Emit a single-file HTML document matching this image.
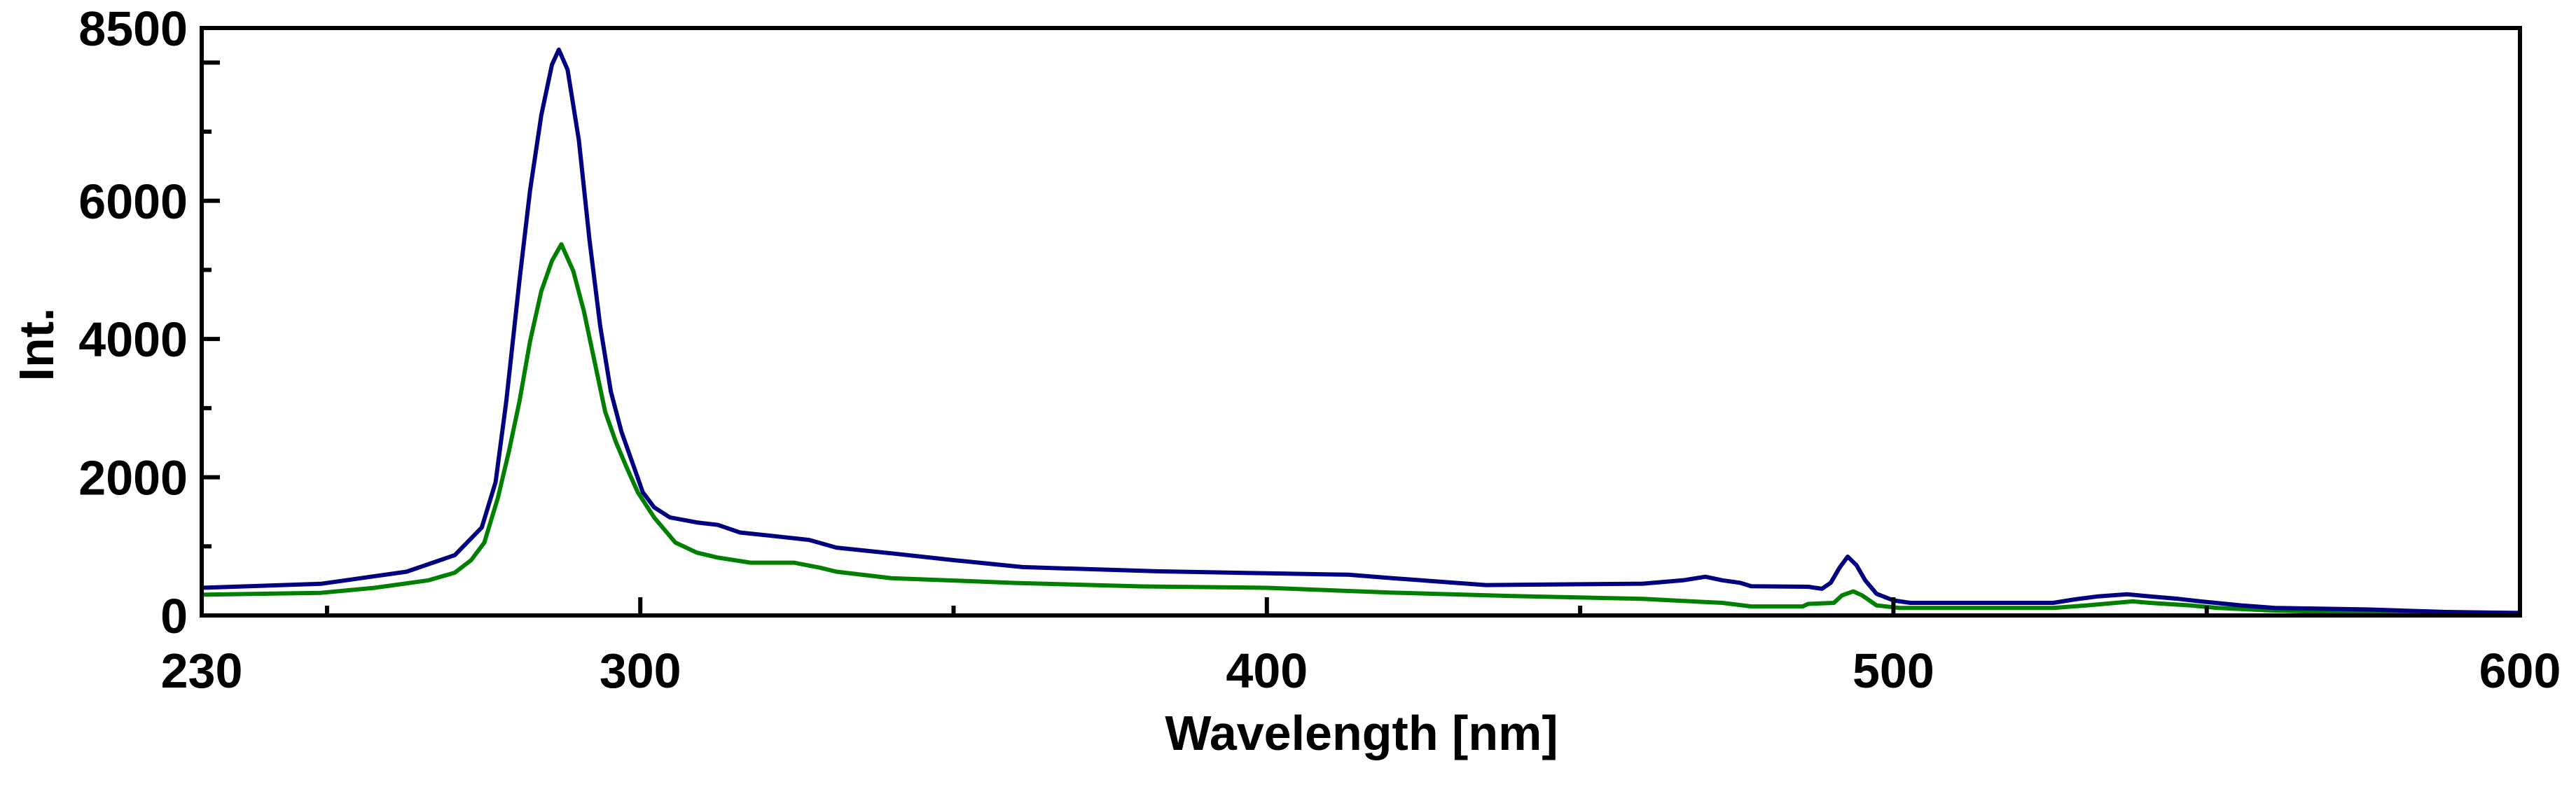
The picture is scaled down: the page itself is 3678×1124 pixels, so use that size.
<!DOCTYPE html>
<html><head><meta charset="utf-8"><style>
html,body{margin:0;padding:0;background:#fff;}
svg{display:block;font-family:"Liberation Sans",sans-serif;font-weight:bold;}
</style></head><body>
<svg id="chart" width="3678" height="1124" viewBox="0 0 3678 1124">
<g id="series"></g>
<g id="axes"></g>
<text x="1944" y="1071" font-size="70" text-anchor="middle">Wavelength [nm]</text>
<text transform="translate(76,492) rotate(-90)" font-size="70" text-anchor="middle">Int.</text>
</svg>
<script>
const xTicks = [230, 300, 400, 500, 600];
const yTicks = [0, 2000, 4000, 6000, 8500];
const blueX = [230,249,262.7,270.4,274.7,276.9,278.6,280.7,282.4,284.2,285.9,287,288.4,290.2,291.9,293.6,295.3,297,298.7,300.4,302.2,304.7,309,312.4,315.9,321.9,327,331.3,340,350,361,382,400,413,420,435,460,466.4,470,472.7,475.5,477.3,486.4,488.6,490,491.4,492.7,494.1,495.5,497.3,500,502.7,525.5,529,532.7,537.3,540.9,545.5,549,555.5,560.9,575.5,588.2,600];
const blueY = [400,458,633,873,1273,1929,3093,4840,6150,7241,7969,8187,7896,6877,5422,4185,3238,2656,2220,1783,1565,1419,1346,1310,1201,1143,1092,982,900,800,700,640,610,590,540,440,460,509,560,509,473,422,415,386,473,691,851,728,509,313,218,182,182,233,277,306,277,240,204,146,109,87,51,36];
const greenX = [230,249,257.6,266.2,270.4,273,275.1,277.3,279,280.7,282.4,284.2,285.9,287.4,289.3,291,292.7,294.4,296.1,297.8,299.6,302.2,305.6,309,312.4,317.6,324.5,328.7,331.3,340,360,380,400,420,440,460,466.4,472.7,477.3,485.5,486.4,490.5,491.8,493.6,495,497.3,500.9,525.5,530.9,538.2,540.9,547.3,551.8,560,575.5,588.2,600];
const greenY = [300,327,400,509,619,800,1055,1710,2365,3093,3966,4694,5131,5371,4985,4403,3675,2947,2511,2147,1783,1419,1055,910,837,764,764,691,633,540,470,420,400,330,280,240,211,182,131,131,167,182,291,349,291,146,109,109,146,204,182,146,109,73,36,15,15];

const NS = "http://www.w3.org/2000/svg";
const X0 = 288, X1 = 3598, Y0 = 879, Y1 = 40;
function sx(v){ return X0 + (v - 230) / (600 - 230) * (X1 - X0); }
function sy(v){ return Y0 - v / 8500 * (Y0 - Y1); }
const series = document.getElementById('series');
const axes = document.getElementById('axes');

function line(xs, ys, color, name){
  let d = '';
  for (let i = 0; i < xs.length; i++) d += (i ? 'L' : 'M') + sx(xs[i]).toFixed(1) + ' ' + sy(ys[i]).toFixed(1);
  const p = document.createElementNS(NS, 'path');
  p.setAttribute('d', d);
  p.setAttribute('fill', 'none');
  p.setAttribute('stroke', color);
  p.setAttribute('stroke-width', '6');
  p.setAttribute('stroke-linejoin', 'round');
  
  
  series.appendChild(p);
}
line(greenX, greenY, '#008000', 'green-spectrum-line');
line(blueX, blueY, '#000080', 'blue-spectrum-line');

function mk(tag, attrs){
  const e = document.createElementNS(NS, tag);
  for (const k in attrs) e.setAttribute(k, attrs[k]);
  axes.appendChild(e);
  return e;
}
const frame = mk('rect', {x: X0, y: Y1, width: X1 - X0, height: Y0 - Y1, fill: 'none', stroke: '#000', 'stroke-width': 6});



// y ticks every 1000 (major every 2000)
for (let v = 1000; v <= 8000; v += 1000) {
  const len = (v % 2000 === 0) ? 26 : 14;
  const t = mk('line', {x1: X0, x2: X0 + len, y1: sy(v), y2: sy(v), stroke: '#000', 'stroke-width': 6});
  
  
}
// x ticks every 50 (major every 100)
for (let v = 250; v < 600; v += 50) {
  const len = (v % 100 === 0) ? 26 : 14;
  const t = mk('line', {x1: sx(v), x2: sx(v), y1: Y0, y2: Y0 - len, stroke: '#000', 'stroke-width': 6});
  
  
}
for (const v of yTicks) {
  const t = mk('text', {x: 268, y: sy(v) + 25, 'font-size': 70, 'text-anchor': 'end'});
  t.textContent = v;
  
  
}
for (const v of xTicks) {
  const t = mk('text', {x: sx(v), y: 982, 'font-size': 70, 'text-anchor': 'middle'});
  t.textContent = v;
  
  
}
</script>
</body></html>
